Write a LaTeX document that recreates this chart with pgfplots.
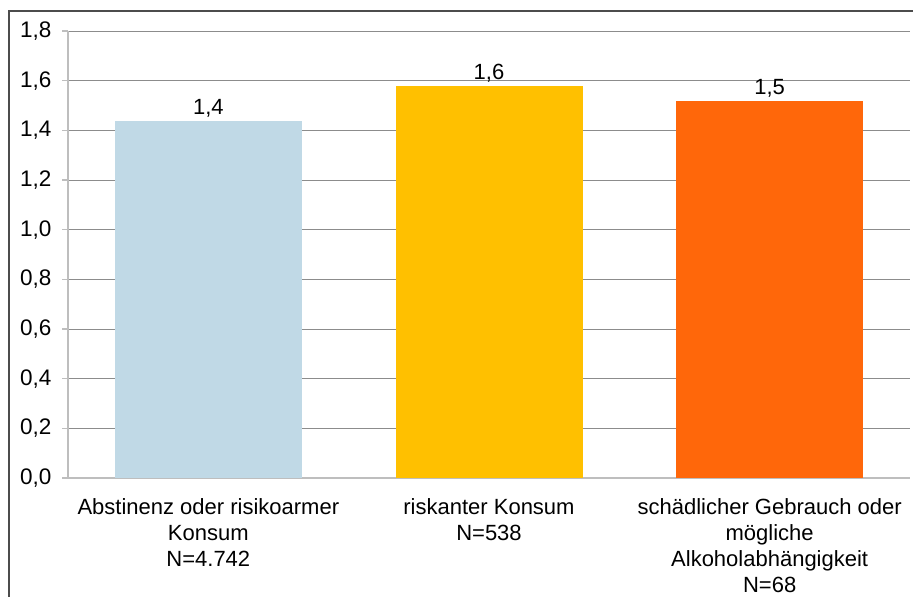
\documentclass[border=0pt]{standalone}
\usepackage{fontspec}
\setmainfont{Liberation Sans}
\usepackage{pgfplots}
\pgfplotsset{compat=1.18}
\definecolor{barblue}{HTML}{C0D9E6}
\definecolor{baramber}{HTML}{FFC000}
\definecolor{barorange}{HTML}{FF670A}
\definecolor{gridgray}{HTML}{8C8C8C}
\definecolor{axisgray}{HTML}{BEBEBE}
\begin{document}
\begin{tikzpicture}
\useasboundingbox (-68pt,-119pt) rectangle (845pt,478pt);
\draw[line width=1.4pt, black!70] (-59pt,-130pt) -- (-59pt,467pt) -- (860pt,467pt);
\begin{axis}[
    scale only axis,
    width=842pt, height=447pt,
    xmin=-0.5, xmax=2.5,
    ymin=0, ymax=1.8,
    ytick distance=0.2,
    axis x line*=bottom,
    axis y line*=left,
    axis line style={-, axisgray, line width=1.5pt},
    ymajorgrids,
    major grid style={gridgray, line width=0.9pt},
    tick align=outside,
    major tick length=6pt,
    minor tick length=6pt,
    ytick style={axisgray, line width=1.5pt},
    xtick style={draw=none},
    minor x tick style={axisgray, line width=1.5pt},
    xtick={0,1,2},
    minor xtick={-0.5,0.5,1.5,2.5},
    xticklabels={{Abstinenz oder risikoarmer\\Konsum\\N=4.742},
                 {riskanter Konsum\\N=538},
                 {schädlicher Gebrauch oder\\mögliche\\Alkoholabhängigkeit\\N=68}},
    xticklabel style={align=center, anchor=north, yshift=-11pt,
        font=\fontsize{22}{26}\selectfont},
    yticklabel style={font=\fontsize{22.5}{26}\selectfont, xshift=-7pt},
    /pgf/number format/.cd, use comma, fixed, fixed zerofill, precision=1,
    assume math mode=true,
    /pgfplots/.cd,
    ybar, bar width=187pt, bar shift=0pt,
    nodes near coords,
    nodes near coords style={font=\fontsize{22}{26}\selectfont, black,
        /pgf/number format/.cd, use comma, fixed, fixed zerofill, precision=1,
        assume math mode=true},
]
\addplot[fill=barblue, draw=none] coordinates {(0,1.438)};
\addplot[fill=baramber, draw=none] coordinates {(1,1.579)};
\addplot[fill=barorange, draw=none] coordinates {(2,1.518)};
\end{axis}
\end{tikzpicture}
\end{document}
